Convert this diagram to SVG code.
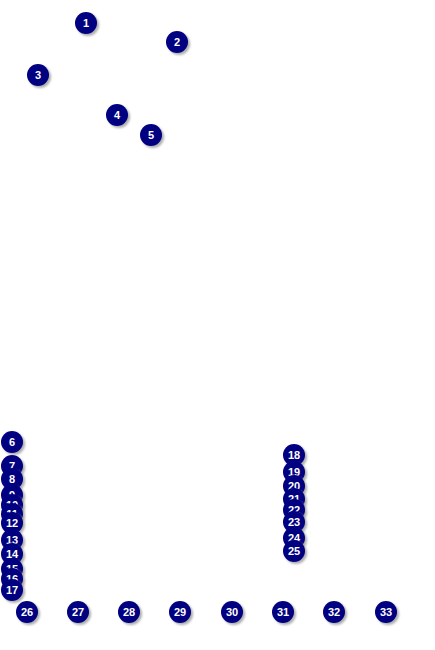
<svg xmlns="http://www.w3.org/2000/svg" width="435" height="650" viewBox="0 0 435 650">
<defs>
<style>
.sh{fill:#9a9a9a;opacity:0.8}
.c{fill:#000080}
.t{fill:#fff;font-family:"Liberation Sans",Arial,sans-serif;font-weight:bold;font-size:11px;text-anchor:middle}
</style>
<filter id="blur" x="-50%" y="-50%" width="200%" height="200%"><feGaussianBlur stdDeviation="0.8"/></filter>
<g id="node">
<circle class="sh" cx="2" cy="2" r="11" filter="url(#blur)"/>
<circle class="c" cx="0" cy="0" r="11"/>
</g>
</defs>
<rect width="435" height="650" fill="#fff"/>
<g id="connectors"></g>
<g id="n1" transform="translate(86,23)"><use href="#node"/><text class="t" y="4">1</text></g>
<g id="n2" transform="translate(177,42)"><use href="#node"/><text class="t" y="4">2</text></g>
<g id="n3" transform="translate(38,75)"><use href="#node"/><text class="t" y="4">3</text></g>
<g id="n4" transform="translate(117,115)"><use href="#node"/><text class="t" y="4">4</text></g>
<g id="n5" transform="translate(151,135)"><use href="#node"/><text class="t" y="4">5</text></g>
<g id="n6" transform="translate(12,442)"><use href="#node"/><text class="t" y="4">6</text></g>
<g id="n7" transform="translate(12,466)"><use href="#node"/><text class="t" y="4">7</text></g>
<g id="n8" transform="translate(12,479)"><use href="#node"/><text class="t" y="4">8</text></g>
<g id="n9" transform="translate(12,495)"><use href="#node"/><text class="t" y="4">9</text></g>
<g id="n10" transform="translate(12,505)"><use href="#node"/><text class="t" y="4">10</text></g>
<g id="n11" transform="translate(12,514)"><use href="#node"/><text class="t" y="4">11</text></g>
<g id="n12" transform="translate(12,523)"><use href="#node"/><text class="t" y="4">12</text></g>
<g id="n13" transform="translate(12,540)"><use href="#node"/><text class="t" y="4">13</text></g>
<g id="n14" transform="translate(12,554)"><use href="#node"/><text class="t" y="4">14</text></g>
<g id="n15" transform="translate(12,569)"><use href="#node"/><text class="t" y="4">15</text></g>
<g id="n16" transform="translate(12,579)"><use href="#node"/><text class="t" y="4">16</text></g>
<g id="n17" transform="translate(12,590)"><use href="#node"/><text class="t" y="4">17</text></g>
<g id="n18" transform="translate(294,455)"><use href="#node"/><text class="t" y="4">18</text></g>
<g id="n19" transform="translate(294,472)"><use href="#node"/><text class="t" y="4">19</text></g>
<g id="n20" transform="translate(294,486)"><use href="#node"/><text class="t" y="4">20</text></g>
<g id="n21" transform="translate(294,499)"><use href="#node"/><text class="t" y="4">21</text></g>
<g id="n22" transform="translate(294,510)"><use href="#node"/><text class="t" y="4">22</text></g>
<g id="n23" transform="translate(294,522)"><use href="#node"/><text class="t" y="4">23</text></g>
<g id="n24" transform="translate(294,538)"><use href="#node"/><text class="t" y="4">24</text></g>
<g id="n25" transform="translate(294,551)"><use href="#node"/><text class="t" y="4">25</text></g>
<g id="n26" transform="translate(27,612)"><use href="#node"/><text class="t" y="4">26</text></g>
<g id="n27" transform="translate(78,612)"><use href="#node"/><text class="t" y="4">27</text></g>
<g id="n28" transform="translate(129,612)"><use href="#node"/><text class="t" y="4">28</text></g>
<g id="n29" transform="translate(180,612)"><use href="#node"/><text class="t" y="4">29</text></g>
<g id="n30" transform="translate(232,612)"><use href="#node"/><text class="t" y="4">30</text></g>
<g id="n31" transform="translate(283,612)"><use href="#node"/><text class="t" y="4">31</text></g>
<g id="n32" transform="translate(334,612)"><use href="#node"/><text class="t" y="4">32</text></g>
<g id="n33" transform="translate(386,612)"><use href="#node"/><text class="t" y="4">33</text></g>
</svg>
